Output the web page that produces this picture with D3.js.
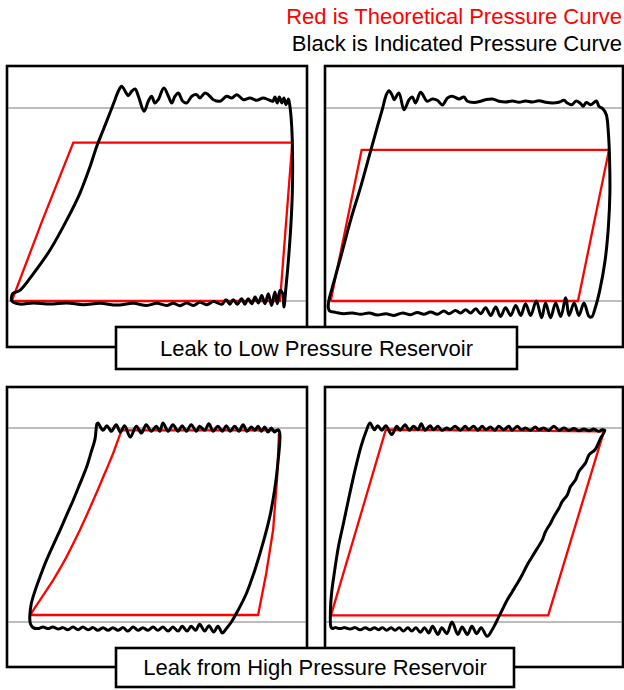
<!DOCTYPE html>
<html>
<head>
<meta charset="utf-8">
<script src="https://cdn.jsdelivr.net/npm/d3@7/dist/d3.min.js"></script>
<style>
  html, body { margin: 0; padding: 0; background: #fff; }
  svg { display: block; }
  text { font-family: "Liberation Sans", Arial, sans-serif; }
</style>
</head>
<body>
<svg id="chart" width="624" height="690"></svg>
<script>
// Legend and caption text
const legendLines = [
  { text: "Red is Theoretical Pressure Curve", color: "#ff0000" },
  { text: "Black is Indicated Pressure Curve", color: "#000000" }
];
const captions = ["Leak to Low Pressure Reservoir", "Leak from High Pressure Reservoir"];

// Each curve: [volume (% of stroke), pressure (% between low and high reservoir)]
// --- Leak to low pressure reservoir, left diagram ---
const lowA_theory = [[1.6, 0], [11.6, 41], [22.1, 82.1], [95.1, 82.1], [91, 0], [1.6, 0]];
const lowA_indicated = [
  [1.6, 0], [1.9, 3.8], [4.3, 5.5], [8.8, 14.2], [14.3, 26.3], [19.9, 41.9], [24.3, 55.8], [27.7, 69.7],
  [29.9, 80.1], [32.1, 88.7], [34.3, 97.4], [36, 104.3], [37.1, 108.7], [38.2, 111.3], [39.7, 107.8],
  [40.4, 106.4], [41.6, 108.7], [42.7, 109.9], [43.8, 106.1], [45.7, 98.3], [47.1, 103.5], [48.2, 106.1],
  [49.3, 102.6], [50.4, 104.3], [52.3, 110.4], [53.8, 106.1], [54.9, 102.6], [56, 106.1], [57.1, 107.8],
  [58.6, 103.5], [59.9, 102.6], [61.6, 106.1], [63.2, 106.9], [64.3, 105.2], [66, 107.8], [67.1, 106.9],
  [68.8, 104.3], [71, 103.5], [73.2, 106.1], [74.9, 105.2], [76.6, 106.9], [78.8, 104.3], [81, 105.2],
  [83.2, 104], [85.4, 105.2], [87.1, 104.3], [88.6, 103.5], [89.3, 105.7], [90.1, 102.6], [90.8, 105.7],
  [91.6, 102.6], [92.3, 105.2], [93, 101.7], [93.8, 104.7], [94.3, 100.9], [94.9, 90.5], [95.2, 73.1],
  [95.1, 55.8], [94.6, 38.5], [93.8, 21.1], [93, 7.3], [92.3, -3.1], [91.9, 3.8], [91, 5.5], [90.1, -1.4],
  [89.3, 4.7], [88.2, -2.3], [87.1, 3.8], [86, -1.4], [84.9, 2.9], [83.8, -1], [82.7, 2.1], [81.6, -1.4],
  [80.4, 1.2], [79.3, -1.7], [78.2, 1.2], [76.8, -1.7], [75.4, 0.7], [74.3, -1.7], [73, 0.7], [71.6, -1.7],
  [68.8, -0.3], [66.6, -1.9], [64.3, -0.7], [62.1, -2.3], [59.9, -1], [57.7, -2.4], [55.4, -1.2],
  [53.2, -2.3], [49.9, -1.2], [46.6, -2.3], [42.1, -1.2], [36.6, -2.1], [31, -1.2], [25.4, -1.9],
  [19.9, -1], [14.3, -1.6], [8.8, -1], [4.3, -1.6]
];

// --- Leak to low pressure reservoir, right diagram ---
const lowB_theory = [[1.9, 0], [12.3, 78.3], [95.3, 78.3], [84.9, 0], [1.9, 0]];
const lowB_indicated = [
  [1.1, -3.5], [1.3, 0.3], [2.5, 7.3], [5.3, 22.9], [8.6, 41.9], [12, 59.3], [14.8, 74.9], [17.6, 90.5],
  [19.2, 99.1], [20.6, 106.9], [21.5, 109], [22.6, 106.4], [23.2, 104.3], [24.8, 107.8], [26.5, 99.1],
  [28.2, 104.3], [29.3, 105.7], [30.4, 102.6], [32.1, 108.1], [34.3, 103.5], [36, 104.7], [37.7, 104],
  [39.4, 101.6], [41.1, 105.2], [42.7, 106.1], [45, 104.7], [46.6, 105.7], [47.8, 103.5], [50, 102.9],
  [52.2, 103.5], [53.9, 104.3], [56.2, 104.7], [58.4, 103.5], [60.6, 103.1], [62.9, 103.6], [65.1, 103],
  [67.3, 103.6], [69.6, 103.1], [71.8, 103.8], [74, 103], [76.3, 102.6], [78.5, 103], [80.2, 104],
  [81.3, 102.6], [82.8, 101.7], [84.3, 103.6], [85.8, 102.3], [86.6, 100.9], [87.7, 102.9], [89.1, 101.7],
  [91.1, 103.6], [91.9, 100.9], [93.3, 99.5], [94.4, 96.5], [95.1, 87], [95.5, 73.1], [95.6, 55.8],
  [95.1, 38.5], [94, 21.1], [92.2, 5.5], [90.6, -4], [89.5, -8.3], [88.6, -8], [86.9, -1], [85.2, -7.5],
  [83.6, -1], [81.9, -7.5], [80.8, 1.7], [79.1, -8], [77.4, -1], [75.7, -8.7], [74, -1], [72.7, -8.7],
  [70.9, 0], [69, -7.5], [67.3, -1.4], [65.7, -7.5], [64, -2.3], [62.3, -7.5], [60.6, -3.5], [58.9, -8],
  [57.3, -3.1], [55.6, -7.5], [53.9, -3.5], [52.2, -6.6], [50.6, -4], [48.9, -6.2], [47.2, -4.5],
  [45.5, -6.2], [43.8, -4.9], [41.6, -6.6], [39.9, -5.2], [37.7, -6.9], [35.5, -5.7], [33.2, -6.9],
  [31, -5.9], [28.7, -7.1], [26, -6.2], [23.2, -7.5], [20.4, -6.6], [17.6, -7.3], [14.8, -6.2], [12, -6.9],
  [9.2, -6.2], [6.4, -6.6], [3.6, -5.9], [1.6, -5.2]
];

// --- Leak from high pressure reservoir, left diagram ---
const highA_theory = [
  [7.7, 3.6], [9.3, 7.4], [11, 11.3], [13.2, 16.4], [15.4, 21.6], [17.7, 27.6], [19.9, 33.7], [22.1, 40.5],
  [24.3, 47.4], [26.6, 55.2], [28.8, 62.9], [30.5, 68.9], [32.1, 74.9], [33.8, 81], [35.4, 87], [36.8, 93],
  [38.2, 98.8], [90.7, 98.8], [90, 73.3], [88.7, 47.4], [86.4, 25], [83.7, 3.6], [7.7, 3.6]
];
const highA_indicated = [
  [7.6, 3.4], [8.1, 9.5], [9.2, 15.4], [10.8, 22.4], [13.2, 32], [15.4, 39.6], [17.7, 47.4], [19.9, 55.2],
  [22.1, 62.9], [24.3, 71.2], [26.6, 80.1], [28, 87.3], [29.3, 94], [30, 102.2], [30.3, 102.6], [32, 98.8],
  [33.3, 101.2], [34.8, 98.3], [36.4, 101.7], [37.8, 97.8], [39.2, 101.2], [41.1, 95.3], [43.1, 100.9],
  [44.8, 97.4], [46.4, 101.7], [48.1, 98.3], [49.8, 100.9], [50.9, 98.3], [52, 102.6], [53.7, 98.3],
  [55.3, 101.7], [57, 98.3], [58.4, 101.2], [59.8, 98.3], [61.4, 101.7], [63.1, 98.3], [64.2, 100.9],
  [65.9, 98.8], [67.3, 102.2], [68.7, 98.3], [70.3, 100.9], [71.8, 98.3], [73.1, 101.2], [74.4, 98.3],
  [75.9, 100.9], [77.3, 98.3], [78.7, 101.7], [80, 98.3], [81.4, 100.5], [82.6, 98.8], [83.7, 100.9],
  [84.8, 98.3], [85.9, 100.5], [87, 97.9], [88.1, 100], [89.2, 97.9], [90.3, 99.1], [90.9, 97.4],
  [90.3, 81.9], [89.2, 68.1], [87.6, 54.3], [85.3, 40.5], [82.6, 26.7], [79.8, 14.7], [77, 6], [74.8, 0],
  [73.1, -3.4], [71.8, -5.7], [70.3, -2.2], [68.9, -5.2], [67.3, -1.9], [65.9, -4.7], [64.2, -1.2],
  [62.9, -4.3], [61.4, -2.2], [60, -4.7], [58.4, -2.2], [57, -4.7], [55.3, -2.6], [53.7, -4.7], [52, -2.6],
  [50.3, -4.3], [48.7, -2.6], [47, -4.3], [45.3, -2.9], [43.7, -4.3], [42, -2.6], [40.3, -4.7], [38.7, -2.9],
  [37, -4.3], [35.3, -2.9], [33.7, -4.3], [32, -2.9], [30.3, -4.3], [28.7, -2.9], [27, -4], [25.3, -2.6],
  [23.7, -4], [22, -2.6], [20.3, -4], [18.7, -2.9], [17, -3.6], [15.3, -2.6], [13.7, -3.4], [12, -2.6],
  [10.3, -3.4], [8.7, -2.9], [7.8, -0.9], [7.6, 1.7]
];

// --- Leak from high pressure reservoir, right diagram ---
const highB_theory = [[2, 3.4], [20.4, 99.1], [93.6, 98.3], [74.9, 3.4], [2, 3.4]];
const highB_indicated = [
  [2, -2.6], [1.8, 4.3], [2.2, 14.7], [3.1, 25], [4.5, 38.8], [6.2, 50.9], [8.1, 64.7], [10.1, 78.4],
  [12.1, 90.5], [13.8, 98.3], [15.1, 102.6], [16.6, 99.1], [17.7, 101.2], [19.1, 98.8], [20.4, 101.2],
  [22.4, 96.6], [24.1, 100.9], [25.2, 98.8], [26.9, 101.7], [28.3, 98.8], [29.7, 100.9], [31.2, 99.1],
  [32.3, 102.2], [33.6, 98.8], [35.3, 101.2], [36.4, 99.1], [37.9, 100.9], [39.2, 98.8], [40.9, 100],
  [42, 99.1], [43.7, 100.9], [45.4, 98.8], [47.1, 100.9], [48.2, 99.1], [49.9, 100.9], [51.3, 98.8],
  [52.7, 100.9], [54, 99.1], [55.5, 100.5], [57, 98.8], [58.3, 100.9], [60, 99.1], [61.7, 100.9],
  [62.8, 98.8], [64.5, 100.9], [65.9, 99.1], [67.3, 100], [68.9, 98.8], [70.6, 100.5], [71.7, 99.1],
  [73.4, 100], [75.1, 98.8], [76.8, 100.9], [78.5, 98.8], [80.2, 100], [81.8, 98.8], [83.5, 99.7],
  [85.2, 98.6], [86.9, 99.5], [88.6, 98.6], [90.2, 99.5], [91.9, 98.3], [93, 99.1], [93.9, 98.8],
  [92.5, 94.8], [90.6, 88.8], [88.6, 86.2], [87.4, 81.9], [85.2, 77.6], [84.1, 73.3], [82.4, 69.8],
  [81.3, 65.5], [79.6, 62.1], [78.5, 58.6], [76.8, 54.3], [75.7, 50.9], [74, 46.6], [72.9, 42.2],
  [71.2, 37.9], [69.5, 33.6], [67.8, 29.3], [66.1, 24.1], [64.5, 19.8], [62.8, 15.5], [61.1, 11.2],
  [59.4, 6], [58.3, 2.6], [57.2, -0.9], [56.1, -4], [54.4, -7.4], [52.4, -2.9], [50.9, -6], [49.3, -2.2],
  [47.8, -6.4], [46, -2.6], [44.6, -6.4], [42.6, 0], [40.9, -6], [39.2, -2.9], [37.9, -6.4], [36.1, -2.2],
  [34.8, -5.7], [33.4, -2.9], [32, -5.3], [30.5, -2.9], [29.1, -4.7], [27.8, -2.9], [26.3, -4.7],
  [24.9, -2.9], [23.5, -4.3], [22.2, -2.9], [20.7, -4.3], [19.3, -2.9], [17.9, -4], [16.6, -2.9],
  [15.1, -4], [13.5, -2.9], [11.8, -4], [10.1, -2.9], [8.4, -3.6], [6.7, -2.9], [5, -3.4], [3.4, -2.9],
  [2.5, -3.4]
];

// Reservoir pressure levels drawn as reference lines
const referenceLevels = [0, 100];

// ---------------- drawing ----------------
const svg = d3.select("#chart");

const panels = [
  { frame: [7, 66, 307, 347], pLow: 301, pHigh: 108, theory: lowA_theory, indicated: lowA_indicated },
  { frame: [325, 66, 623, 347], pLow: 301, pHigh: 108, theory: lowB_theory, indicated: lowB_indicated },
  { frame: [7, 387, 307, 667], pLow: 622, pHigh: 428, theory: highA_theory, indicated: highA_indicated },
  { frame: [325, 387, 623, 667], pLow: 622, pHigh: 428, theory: highB_theory, indicated: highB_indicated }
];

panels.forEach(pn => {
  const [x0, y0, x1, y1] = pn.frame;
  const x = d3.scaleLinear().domain([0, 100]).range([x0, x1]);
  const y = d3.scaleLinear().domain([0, 100]).range([pn.pLow, pn.pHigh]);
  const g = svg.append("g");

  g.append("rect")
    .attr("x", x0).attr("y", y0)
    .attr("width", x1 - x0).attr("height", y1 - y0)
    .attr("fill", "#fff").attr("stroke", "#000").attr("stroke-width", 2.6);

  g.selectAll("line.ref").data(referenceLevels).enter().append("line")
    .attr("class", "ref")
    .attr("x1", x(0) + 1).attr("x2", x(100) - 1)
    .attr("y1", d => y(d)).attr("y2", d => y(d))
    .attr("stroke", "#7a7a7a").attr("stroke-width", 1);

  const theoryLine = d3.line().x(d => x(d[0])).y(d => y(d[1])).curve(d3.curveLinear);
  g.append("path")
    .attr("d", theoryLine(pn.theory))
    .attr("fill", "none").attr("stroke", "#ff0000")
    .attr("stroke-width", 2.3).attr("stroke-linejoin", "miter");

  const indicatedLine = d3.line().x(d => x(d[0])).y(d => y(d[1]))
    .curve(d3.curveCatmullRomClosed.alpha(0.5));
  g.append("path")
    .attr("d", indicatedLine(pn.indicated))
    .attr("fill", "none").attr("stroke", "#000")
    .attr("stroke-width", 3).attr("stroke-linejoin", "round");
});

// Caption boxes over each row of diagrams
const captionBoxes = [
  { x: 116, y: 327, w: 401, h: 42, base: 356 },
  { x: 116, y: 648, w: 398, h: 39, base: 675 }
];
captionBoxes.forEach((b, i) => {
  svg.append("rect")
    .attr("x", b.x).attr("y", b.y).attr("width", b.w).attr("height", b.h)
    .attr("fill", "#fff").attr("stroke", "#000").attr("stroke-width", 2.6);
  svg.append("text")
    .attr("x", b.x + b.w / 2).attr("y", b.base)
    .attr("text-anchor", "middle")
    .attr("font-size", 22).attr("fill", "#000")
    .text(captions[i]);
});

// Legend in the top-right corner
svg.selectAll("text.legend").data(legendLines).enter().append("text")
  .attr("class", "legend")
  .attr("x", 622).attr("y", (d, i) => 24 + i * 27)
  .attr("text-anchor", "end")
  .attr("font-size", 22)
  .attr("fill", d => d.color)
  .text(d => d.text);
</script>
</body>
</html>
